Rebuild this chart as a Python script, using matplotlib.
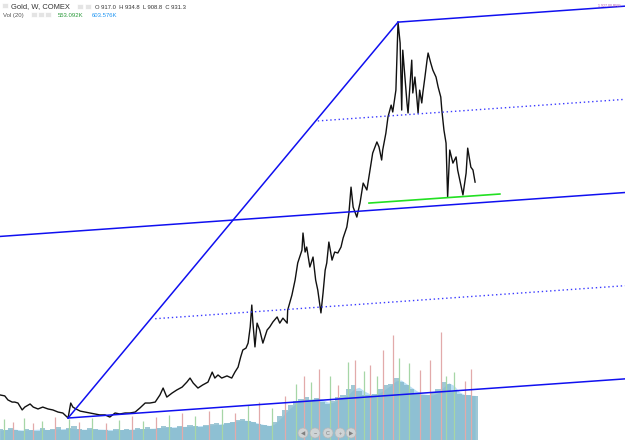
import matplotlib
matplotlib.use('Agg')
import matplotlib.pyplot as plt
from matplotlib.patches import Circle, Rectangle

plt.rcParams['font.family'] = ['Liberation Sans', 'DejaVu Sans']

# weekly gold closes (week index from start, USD)
weeks = [0, 9, 15, 23, 28, 34, 42, 47, 57, 63, 72, 81, 91, 100, 110, 119, 129, 134, 138, 144,
         152, 161, 170, 180, 189, 199, 208, 218, 227, 237, 246, 256, 265, 275, 284, 294, 303, 309, 316, 326,
         335, 345, 354, 360, 366, 375, 384, 394, 402, 407, 413, 420, 430, 439, 445, 451, 456, 460, 466, 470,
         474, 477, 479, 483, 487, 492, 498, 506, 511, 517, 525, 530, 536, 544, 545, 553, 559, 564, 572, 574,
         578, 581, 587, 593, 598, 602, 608, 612, 616, 619, 623, 629, 634, 640, 646, 650, 657, 661, 665, 669,
         676, 682, 688, 695, 701, 706, 714, 718, 723, 725, 731, 735, 741, 744, 750, 754, 758, 761, 763, 767,
         771, 773, 777, 780, 782, 786, 790, 792, 795, 799, 801, 805, 809, 811, 816, 820, 826, 830, 835, 837,
         841, 845, 848, 852, 858, 864, 867, 877, 883, 886, 892, 896, 900]
close = [352, 348, 331, 322, 322, 318, 289, 301, 314, 301, 293, 301, 293, 289, 280, 276, 255, 318, 301, 293,
         284, 280, 276, 272, 268, 268, 259, 276, 272, 276, 276, 280, 297, 318, 318, 322, 352, 381, 343, 360,
         373, 385, 406, 423, 402, 381, 394, 406, 448, 423, 436, 423, 432, 423, 448, 469, 512, 541, 549, 570,
         638, 730, 659, 554, 654, 625, 570, 625, 638, 659, 680, 654, 675, 654, 709, 772, 835, 907, 961, 1033,
         953, 974, 890, 932, 835, 793, 697, 781, 877, 907, 995, 919, 953, 949, 974, 1012, 1058, 1117, 1226, 1142,
         1100, 1159, 1243, 1214, 1298, 1369, 1416, 1395, 1340, 1382, 1453, 1521, 1571, 1542, 1634, 1920, 1832, 1550, 1802, 1689,
         1580, 1538, 1664, 1760, 1622, 1689, 1592, 1538, 1634, 1580, 1622, 1689, 1760, 1790, 1748, 1718, 1689, 1647, 1605, 1550,
         1466, 1411, 1184, 1382, 1327, 1353, 1298, 1193, 1285, 1390, 1310, 1298, 1247]

# volume (thousands), sampled every 10 weeks
vol_weeks = list(range(0, 901, 10))
volume = [120, 105, 130, 110, 95, 125, 115, 100, 135, 110,
          120, 140, 115, 130, 150, 125, 110, 130, 120, 105,
          115, 100, 120, 110, 125, 105, 130, 120, 140, 125,
          135, 150, 140, 130, 155, 145, 160, 150, 140, 165,
          175, 190, 170, 185, 200, 215, 230, 210, 195, 180,
          165, 150, 200, 260, 330, 380, 430, 450, 470, 440,
          460, 420, 400, 430, 470, 500, 560, 600, 540, 500,
          490, 510, 560, 600, 620, 680, 640, 600, 560, 520,
          500, 490, 520, 560, 640, 620, 540, 510, 490, 500,
          480]
vol_ma = [110, 115, 120, 118, 112, 110, 115, 118, 120, 115,
          118, 122, 125, 128, 125, 120, 118, 120, 122, 120,
          118, 115, 112, 115, 118, 120, 122, 125, 128, 130,
          135, 140, 142, 145, 148, 150, 152, 155, 158, 160,
          165, 172, 180, 190, 200, 210, 220, 215, 200, 185,
          170, 160, 175, 230, 290, 350, 400, 430, 450, 455,
          460, 450, 420, 410, 440, 470, 500, 560, 580, 540,
          510, 500, 520, 560, 600, 650, 660, 620, 580, 540,
          510, 500, 495, 520, 580, 630, 600, 530, 500, 495,
          490]
spike_weeks = [8, 25, 45, 62, 80, 105, 130, 150, 175, 200, 225, 250, 270, 295, 320, 345, 370, 395,
               420, 445, 470, 490, 515, 540, 560, 575, 590, 605, 625, 640, 660, 672, 690, 700, 715,
               725, 745, 755, 775, 795, 815, 835, 845, 860, 880, 893]
spike_vol = [230, 200, 240, 190, 210, 250, 230, 200, 240, 190, 220, 260, 210, 250, 280, 300, 260, 320,
             340, 300, 380, 420, 350, 480, 620, 700, 640, 780, 700, 600, 860, 880, 760, 820, 700,
             990, 1160, 900, 850, 770, 880, 1190, 700, 750, 650, 780]
spike_up = [1, 0, 1, 0, 1, 0, 1, 0, 1, 0, 1, 0, 1, 0, 1, 0, 1, 0,
            1, 0, 1, 0, 1, 0, 1, 0, 1, 0, 1, 0, 1, 0, 1, 0, 1,
            0, 0, 1, 1, 0, 0, 0, 1, 1, 0, 0]

# pitchfork pivots (week, price) and channel slope (USD per week)
pivot_low = (129, 255)
pivot_high = (754, 1920)
slope = 0.156
inner_start = [294, 602]
support = ([699, 947], [1159, 1197])

fig = plt.figure(figsize=(6.25, 4.4), dpi=100)

vax = fig.add_axes([0, 0, 1, 1])
vax.set_xlim(0, 1184)
vax.set_ylim(0, 4840)
vax.axis('off')
vax.fill_between(vol_weeks, vol_ma, color='#8ccbf0', alpha=0.6, lw=0)
vax.bar(vol_weeks, volume, width=10, color='#80b6c8', alpha=0.75, lw=0)
for w, v, up in zip(spike_weeks, spike_vol, spike_up):
    vax.vlines(w, 0, v, color='#a6d6a6' if up else '#e2aaaa', lw=0.9)

ax = fig.add_axes([0, 0, 1, 1])
ax.patch.set_alpha(0)
ax.set_xlim(0, 1184)
ax.set_ylim(162.5, 2013)
ax.axis('off')

ax.plot(weeks, close, color='#111111', lw=1.0)

x_end = 1184
def chan(w, base):
    return base[1] + slope * (w - base[0])

mid_base = ((pivot_low[0] + pivot_high[0]) / 2, (pivot_low[1] + pivot_high[1]) / 2)
blue = '#1010f0'
ax.plot([pivot_low[0], pivot_high[0]], [pivot_low[1], pivot_high[1]], color=blue, lw=1.1)
ax.plot([pivot_high[0], x_end], [pivot_high[1], chan(x_end, pivot_high)], color=blue, lw=1.1)
ax.plot([pivot_low[0], x_end], [pivot_low[1], chan(x_end, pivot_low)], color=blue, lw=1.1)
ax.plot([0, x_end], [chan(0, mid_base), chan(x_end, mid_base)], color=blue, lw=1.1)
lo_q = ((mid_base[0] + pivot_low[0]) / 2, (mid_base[1] + pivot_low[1]) / 2)
hi_q = ((mid_base[0] + pivot_high[0]) / 2, (mid_base[1] + pivot_high[1]) / 2)
for w0, base in zip(inner_start, [lo_q, hi_q]):
    ax.plot([w0, x_end], [chan(w0, base), chan(x_end, base)], color='#3a3aff',
            lw=1, ls=(0, (1, 2)))
ax.plot(support[0], support[1], color='#22e022', lw=1.2)

# header / chart controls in pixel space
ov = fig.add_axes([0, 0, 1, 1])
ov.patch.set_alpha(0)
ov.set_xlim(0, 625)
ov.set_ylim(440, 0)
ov.axis('off')
for x, y in [(2, 3), (77, 4), (85, 4), (31, 12), (38, 12), (45, 12)]:
    ov.add_patch(Rectangle((x, y), 5.5, 5.5, facecolor='#e4e4e4', edgecolor='white', lw=0.5))
ov.text(11, 7, 'Gold, W, COMEX', fontsize=5.4, color='#333333', va='center')
ov.text(95, 7.5, 'O 917.0  H 934.8  L 908.8  C 931.3', fontsize=4.2, color='#333333', va='center')
ov.text(3, 15.5, 'Vol (20)', fontsize=4.3, color='#555555', va='center')
ov.text(58, 15.5, '553.092K', fontsize=4.3, color='#2a9a3a', va='center')
ov.text(92, 15.5, '603.576K', fontsize=4.3, color='#2196f3', va='center')
ov.text(598, 6, '1,927.00 BNG', fontsize=2.6, color='#b050b0', va='center')
for x, s in zip([303, 315, 328, 340, 351], ['◀', '−', 'C', '+', '▶']):
    ov.add_patch(Circle((x, 433), 5, facecolor='#d6d6d6', edgecolor='#b8b8b8', lw=0.6, alpha=0.9))
    ov.text(x, 433.3, s, fontsize=4, color='#808080', ha='center', va='center')

fig.savefig('out.png', dpi=100)
